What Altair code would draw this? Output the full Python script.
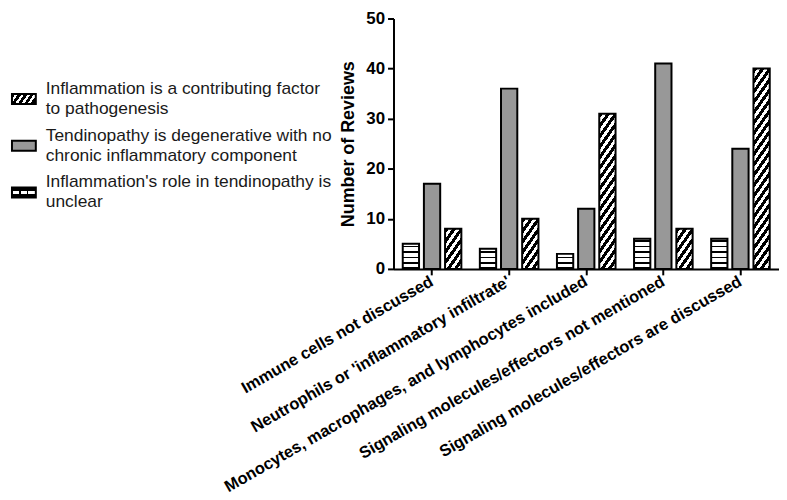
import math
import altair as alt
import pandas as pd

# ---------------- data ----------------
categories = [
    "Immune cells not discussed",
    "Neutrophils or 'inflammatory infiltrate'",
    "Monocytes, macrophages, and lymphocytes included",
    "Signaling molecules/effectors not mentioned",
    "Signaling molecules/effectors are discussed",
]
series_order = ["unclear", "degenerative", "contributing"]  # order of bars in each group
unclear_vals = [5, 4, 3, 6, 6]
degenerative_vals = [17, 36, 12, 41, 24]
contributing_vals = [8, 10, 31, 8, 40]

legend_keys = ["contributing", "degenerative", "unclear"]
legend_line1 = [
    "Inflammation is a contributing factor",
    "Tendinopathy is degenerative with no",
    "Inflammation's role in tendinopathy is",
]
legend_line2 = ["to pathogenesis", "chronic inflammatory component", "unclear"]

y_ticks = [0, 10, 20, 30, 40, 50]

# ---------------- styling ----------------
FONT = "Liberation Sans"
PLOT_W, PLOT_H = 388, 252
LEGEND_W = 300
Y_MAX = 50
X_PAD_IN, X_PAD_OUT = 0.24, 0.12
OFF_PAD_IN = 0.23
STEP = PLOT_W / (len(categories) - X_PAD_IN + 2 * X_PAD_OUT)
BAND = STEP * (1 - X_PAD_IN)
BAR_W = BAND / (3 - OFF_PAD_IN) * (1 - OFF_PAD_IN)
PX_PER_UNIT = PLOT_H / Y_MAX
CHECKER_GRAY = "#989898"


def diag_gradient(h, w, angle=55, v_period=10.5, black_frac=0.52):
    th = math.radians(angle)
    s, c = math.sin(th), math.cos(th)
    p = v_period * c
    D = w * s + h * c
    k = D / ((w * s) ** 2 + (h * c) ** 2)
    n = D / p
    stops = []
    j = 0
    while j / n < 1:
        a = j / n
        b = min((j + black_frac) / n, 1)
        e = min((j + 1) / n, 1)
        stops += [
            {"offset": a, "color": "black"},
            {"offset": b, "color": "black"},
            {"offset": b, "color": "white"},
            {"offset": e, "color": "white"},
        ]
        j += 1
    return {"gradient": "linear", "x1": 0, "y1": 0, "x2": k * w * s, "y2": k * h * c, "stops": stops}


def brick_gradient(h, period=5.4, line_frac=0.3):
    n = h / period
    stops = []
    j = 0
    while j / n < 1:
        a = j / n
        b = min((j + line_frac) / n, 1)
        e = min((j + 1) / n, 1)
        stops += [
            {"offset": a, "color": "black"},
            {"offset": b, "color": "black"},
            {"offset": b, "color": "white"},
            {"offset": e, "color": "white"},
        ]
        j += 1
    return {"gradient": "linear", "x1": 0, "y1": 1, "x2": 0, "y2": 0, "stops": stops}


# ---------------- main chart ----------------
rows = []
for ser, vals in zip(series_order, [unclear_vals, degenerative_vals, contributing_vals]):
    for i, (cat, v) in enumerate(zip(categories, vals)):
        rows.append({"category": cat, "ci": i, "series": ser, "value": v})
df = pd.DataFrame(rows)

base = alt.Chart(df).encode(
    x=alt.X(
        "category:N",
        sort=categories,
        scale=alt.Scale(domain=categories, paddingInner=X_PAD_IN, paddingOuter=X_PAD_OUT),
        axis=alt.Axis(
            title=None,
            labelAngle=-30,
            labelAlign="right",
            labelBaseline="middle",
            labelPadding=5,
            labelFontSize=16.5,
            labelLimit=0,
            labelOverlap=False,
        ),
    ),
    xOffset=alt.XOffset(
        "series:N",
        sort=series_order,
        scale=alt.Scale(domain=series_order, paddingInner=OFF_PAD_IN, paddingOuter=0),
    ),
    y=alt.Y(
        "value:Q",
        scale=alt.Scale(domain=[0, Y_MAX], nice=False),
        axis=alt.Axis(title="Number of Reviews", values=y_ticks, labelPadding=3, titlePadding=8),
    ),
)

layers = []
for ser, vals in zip(series_order, [unclear_vals, degenerative_vals, contributing_vals]):
    for i, v in enumerate(vals):
        h = v * PX_PER_UNIT
        if ser == "contributing":
            fill = diag_gradient(h, BAR_W)
        elif ser == "unclear":
            fill = brick_gradient(h)
        else:
            fill = CHECKER_GRAY
        layers.append(
            base.transform_filter(
                (alt.datum.ci == i) & (alt.datum.series == ser)
            ).mark_bar(fill=fill, stroke="black", strokeWidth=2)
        )

main = alt.layer(*layers).properties(width=PLOT_W, height=PLOT_H)

# ---------------- legend panel ----------------
leg_df = pd.DataFrame({"key": legend_keys, "line1": legend_line1, "line2": legend_line2})
ly = alt.Y("key:N", scale=alt.Scale(type="point", domain=legend_keys, range=[81, 175], padding=0), axis=None)
SW_SHAPE = "M-1,-0.42H1V0.42H-1Z"
SW_SIZE = 576
SW_X = 10

leg_base = alt.Chart(leg_df).encode(y=ly)
leg_layers = []
sw_fills = {
    "contributing": diag_gradient(10, 24, angle=55, v_period=9, black_frac=0.55),
    "degenerative": CHECKER_GRAY,
    "unclear": {
        "gradient": "linear", "x1": 0, "y1": 0, "x2": 0, "y2": 1,
        "stops": [
            {"offset": 0, "color": "black"}, {"offset": 0.36, "color": "black"},
            {"offset": 0.36, "color": "white"}, {"offset": 0.64, "color": "white"},
            {"offset": 0.64, "color": "black"}, {"offset": 1, "color": "black"},
        ],
    },
}
for key in legend_keys:
    leg_layers.append(
        leg_base.transform_filter(alt.datum.key == key).mark_point(
            shape=SW_SHAPE, size=SW_SIZE, filled=True, fill=sw_fills[key],
            stroke="black", strokeWidth=2, opacity=1,
        ).encode(x=alt.value(SW_X))
    )
# dash separators on the "unclear" swatch
leg_layers.append(
    leg_base.transform_filter(alt.datum.key == "unclear").mark_point(
        shape=SW_SHAPE, size=SW_SIZE, filled=True, strokeWidth=0, opacity=1,
        fill={
            "gradient": "linear", "x1": 0, "y1": 0, "x2": 1, "y2": 0,
            "stops": [
                {"offset": 0, "color": "rgba(0,0,0,0)"}, {"offset": 0.31, "color": "rgba(0,0,0,0)"},
                {"offset": 0.31, "color": "black"}, {"offset": 0.37, "color": "black"},
                {"offset": 0.37, "color": "rgba(0,0,0,0)"}, {"offset": 0.63, "color": "rgba(0,0,0,0)"},
                {"offset": 0.63, "color": "black"}, {"offset": 0.69, "color": "black"},
                {"offset": 0.69, "color": "rgba(0,0,0,0)"}, {"offset": 1, "color": "rgba(0,0,0,0)"},
            ],
        },
    ).encode(x=alt.value(SW_X))
)
txt_kw = dict(align="left", baseline="middle", font=FONT, fontSize=17.5, color="#1a1a1a")
leg_layers.append(leg_base.mark_text(dy=-10, **txt_kw).encode(x=alt.value(32), text="line1:N"))
leg_layers.append(leg_base.mark_text(dy=10, **txt_kw).encode(x=alt.value(32), text="line2:N"))

legend = alt.layer(*leg_layers).properties(width=LEGEND_W, height=PLOT_H)

chart = (
    alt.hconcat(legend, main, spacing=82, bounds="flush")
    .properties(padding=0)
    .configure_view(stroke=None)
    .configure_axis(
        grid=False,
        domainColor="black",
        domainWidth=2,
        tickColor="black",
        tickWidth=2,
        tickSize=6,
        labelColor="black",
        labelFont=FONT,
        labelFontWeight="bold",
        labelFontSize=17,
        titleFont=FONT,
        titleFontWeight="bold",
        titleFontSize=18,
        titleColor="black",
    )
)

chart.save("out.html", embed_options={"renderer": "svg", "actions": False})
